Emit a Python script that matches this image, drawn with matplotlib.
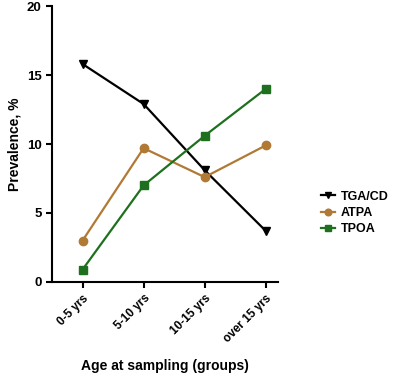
import numpy as np
import matplotlib.pyplot as plt

plt.rcParams['font.family'] = ['Liberation Sans', 'DejaVu Sans']
plt.rcParams['font.weight'] = 'bold'

groups = ['0-5 yrs', '5-10 yrs', '10-15 yrs', 'over 15 yrs']
tga_cd = [15.8, 12.9, 8.1, 3.7]
atpa = [3.0, 9.7, 7.6, 9.9]
tpoa = [0.9, 7.0, 10.6, 14.0]

fig = plt.figure(figsize=(4.0, 3.79), dpi=100)
ax = fig.add_axes([0.13, 0.256, 0.565, 0.728])

x = np.arange(len(groups))
ax.plot(x, tga_cd, color='black', marker='v', markersize=6, lw=1.6, label='TGA/CD')
ax.plot(x, atpa, color='#B07A35', marker='o', markersize=6, lw=1.6, label='ATPA')
ax.plot(x, tpoa, color='#1E701E', marker='s', markersize=6, lw=1.6, label='TPOA')

ax.set_xlim(-0.5, 3.2)
ax.set_ylim(0, 20)
ax.set_yticks([0, 5, 10, 15, 20])
ax.set_xticks(x)
ax.set_xticklabels(groups, rotation=45, ha='right', rotation_mode='anchor', fontsize=8.5)
ax.tick_params(axis='y', labelsize=9.5, width=1.5, length=4)
ax.tick_params(axis='x', width=1.5, length=4)
for s in ['top', 'right']:
    ax.spines[s].set_visible(False)
for s in ['left', 'bottom']:
    ax.spines[s].set_linewidth(1.5)

ax.set_ylabel('Prevalence, %', fontsize=10, fontweight='bold')
ax.set_xlabel('Age at sampling (groups)', fontsize=10, fontweight='bold', labelpad=10)

ax.legend(loc='center left', bbox_to_anchor=(1.14, 0.25), frameon=False,
          fontsize=9, handlelength=1.1, handletextpad=0.5, labelspacing=0.35,
          markerscale=0.8)

fig.savefig('out.png', dpi=100)
